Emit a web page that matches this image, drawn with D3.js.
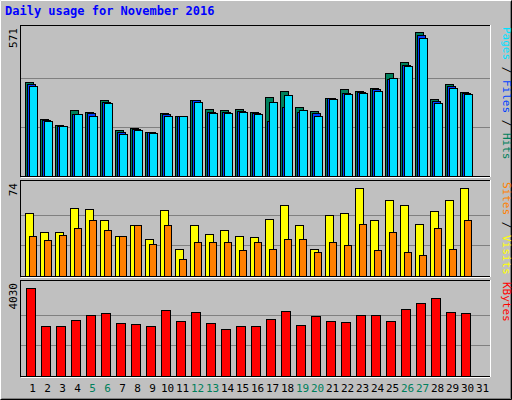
<!DOCTYPE html><html><head><script src="https://cdn.jsdelivr.net/npm/d3@7"></script>
<style>body{margin:0;background:#fff}</style></head><body><svg id="c" width="512" height="400"></svg>
<script>
const days=d3.range(1,32);
const hits=[364,220,198,258,247,296,179,185,170,243,235,296,262,258,262,250,307,330,269,254,303,338,330,341,402,444,558,300,357,326];
const files=[357,216,196,239,243,288,170,182,170,239,235,296,250,250,254,243,212,269,250,246,303,322,326,338,376,433,547,292,349,322];
const pages=[349,212,193,239,235,284,163,178,166,235,235,288,243,246,250,239,288,315,258,235,300,319,322,330,380,429,536,284,341,319];
const visits=[51,35,35,55,54,45,32,41,30,53,22,41,34,37,32,31,46,57,41,22,49,51,71,45,61,57,42,52,61,71];
const sites=[32,29,33,39,45,37,32,41,26,41,14,27,27,27,21,27,22,30,30,19,27,25,42,21,35,19,17,39,22,45];
const kbytes=[3861,2212,2212,2466,2677,2762,2339,2297,2212,2888,2423,2804,2339,2043,2212,2170,2508,2846,2254,2635,2423,2381,2677,2677,2423,2931,3184,3396,2804,2762];
const weekend=[5,6,12,13,19,20,26,27];
const svg=d3.select("#c");
svg.append("rect").attr("width",512).attr("height",400).attr("fill","#c0c0c0");
svg.append("path").attr("d","M0.5,399.5V0.5H511.5").attr("stroke","#fff").attr("fill","none");
svg.append("path").attr("d","M0.5,399.5H511.5V0.5").attr("stroke","#000").attr("fill","none");
svg.append("path").attr("d","M1.5,398.5H510.5V1.5").attr("stroke","#808080").attr("fill","none");
svg.append("text").attr("x",5).attr("y",15).attr("fill","#0000ff").attr("font-family","DejaVu Sans Mono").attr("font-weight","bold").attr("font-size",12).text("Daily usage for November 2016");
const x=d3.scaleBand().domain(days).range([25,490]);
const font="DejaVu Sans Mono";
function panel(y0,y1,max,label,series){
  svg.append("rect").attr("x",20.5).attr("y",y0+0.5).attr("width",470).attr("height",y1-y0).attr("fill","#c0c0c0").attr("stroke","#000");
  svg.append("line").attr("x1",21).attr("x2",490).attr("y1",y1+1.5).attr("y2",y1+1.5).attr("stroke","#fff");
  svg.append("line").attr("x1",490.5).attr("x2",490.5).attr("y1",y0).attr("y2",y1+1).attr("stroke","#fff");
  const y=d3.scaleLinear().domain([0,max]).range([y1,y0+4]);
  [max/3,2*max/3].forEach(v=>svg.append("line").attr("x1",21).attr("x2",490).attr("y1",Math.round(y(v))+0.5).attr("y2",Math.round(y(v))+0.5).attr("stroke","#808080"));
  series.forEach(s=>{
    svg.append("g").selectAll("rect").data(s.data).join("rect")
      .attr("x",(d,i)=>x(i+1)+s.off+0.5).attr("width",s.w)
      .attr("y",d=>Math.round(y(d))+0.5).attr("height",d=>y1-Math.round(y(d)))
      .attr("fill",s.color).attr("stroke","#000");
  });
  svg.append("text").attr("transform",`translate(17,${y0+3}) rotate(-90)`).attr("text-anchor","end")
    .attr("font-family",font).attr("font-size",11).text(max);
  const t=svg.append("text").attr("transform",`translate(503,${y0+2}) rotate(90)`).attr("font-family",font).attr("font-size",11);
  label.forEach(l=>t.append("tspan").attr("fill",l[1]).text(l[0]));
}
panel(25,176,571,[["Hits","#00805c"],[" / ","#000"],["Files","#0040ff"],[" / ","#000"],["Pages","#00e0ff"]].reverse().map(l=>l),
 [{data:hits,off:0,w:8,color:"#00805c"},{data:files,off:2,w:8,color:"#0040ff"},{data:pages,off:4,w:8,color:"#00e0ff"}]);
panel(180,276,74,[["Sites","#ff8000"],[" / ","#000"],["Visits","#ffff00"]],
 [{data:visits,off:0,w:8,color:"#ffff00"},{data:sites,off:4,w:7,color:"#ff8000"}]);
panel(280,376,4030,[["KBytes","#ff0000"]],[{data:kbytes,off:1,w:9,color:"#ff0000"}]);
svg.append("g").selectAll("text").data(days).join("text")
  .attr("x",d=>x(d)+x.bandwidth()/2).attr("y",392).attr("text-anchor","middle")
  .attr("font-family",font).attr("font-size",11).attr("fill",d=>weekend.includes(d)?"#00805c":"#000").text(d=>d);
</script></body></html>
